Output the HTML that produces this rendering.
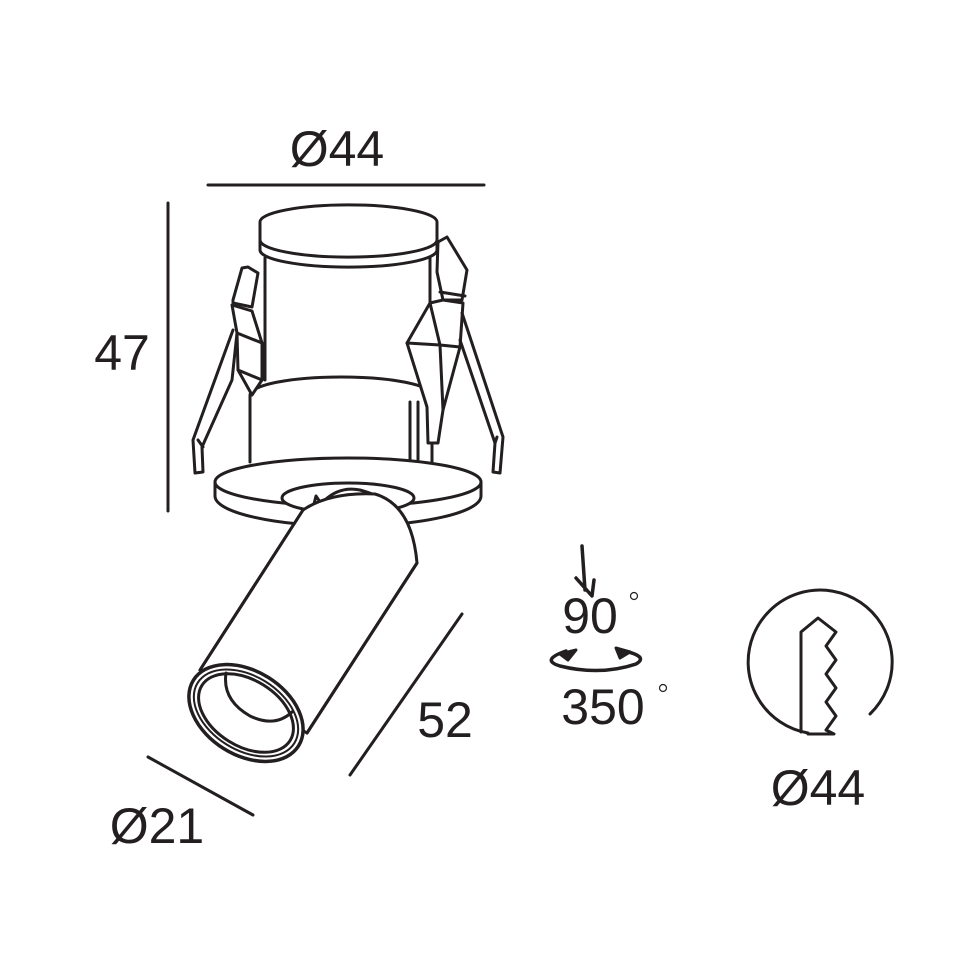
<!DOCTYPE html>
<html><head><meta charset="utf-8"><style>
html,body{margin:0;padding:0;background:#fff;}
svg{display:block}
text{font-family:"Liberation Sans",sans-serif;fill:#231f20}
</style></head><body>
<svg width="960" height="960" viewBox="0 0 960 960" xmlns="http://www.w3.org/2000/svg">
<g fill="none" stroke="#231f20" stroke-width="3" stroke-linejoin="round" stroke-linecap="round">
<!-- dimension lines -->
<line x1="208" y1="185" x2="484" y2="185"/>
<line x1="168" y1="203" x2="168" y2="511"/>
<line x1="462" y1="614" x2="350" y2="775"/>
<line x1="148" y1="757" x2="253" y2="815"/>

<!-- cap -->
<path d="M260 222 A88 17 0 0 1 437 222 L437 240 A88 17 0 0 1 260 240 Z" fill="#fff"/>
<path d="M260 240 L260 250 A88 17 0 0 0 437 250 L437 240"/>
<path d="M265 258 L265 380 M430 258 L430 380"/>
<!-- collar -->
<path d="M250 395 A91 18 0 0 1 432 395 L432 462 M250 395 L250 462"/>
<path d="M410 402 L410 460 M418 402 L418 460"/>

<!-- left clip -->
<path d="M233 300 L242 268 L248 267 L258 273 L252 307 L233 303 Z" fill="#fff"/>
<path d="M232 305 L252 311 L262 343 L262 380 L252 395 L238 370 L237 333 Z" fill="#fff"/>
<path d="M237 333 L262 343 M238 370 L262 380"/>
<path d="M233 330 L193 440 L195 473 L203 472 L202 447 L232 380 L237 333"/>
<path d="M198 440 L203 447"/>

<!-- right clip -->
<path d="M437 272 L438 242 L447 237 L467 270 L462 300 L443 300 Z" fill="#fff"/>
<path d="M440 292 L465 296"/>
<path d="M443 300 L463 303 L460 347 L443 410 L438 443 L428 443 L427 407 L407 343 L430 303 Z" fill="#fff"/>
<path d="M430 303 L440 345 L443 410 M407 343 L440 345 L460 347"/>
<path d="M462 313 L503 437 L500 473 L493 472 L495 443 L460 340"/>
<path d="M497 437 L495 443"/>

<!-- flange -->
<path d="M215 482 A133 24 0 0 1 481 482 L481 496 A133 30 0 0 1 215 496 Z" fill="#fff"/>
<path d="M215 482 A133 24 0 0 0 481 482"/>
<ellipse cx="348" cy="498" rx="66" ry="15" fill="#fff"/>
<path d="M313 508 L316 496 L322 505 M325 500 Q340 486 360 490 Q374 494 380 498"/>

<!-- tube -->
<path d="M303 510 Q330 492 375 494 Q412 505 417 563 L307 733 L200 670 Z" fill="#fff"/>
<path d="M303 510 L200 670 M417 563 L307 733"/>
<ellipse cx="246" cy="713" rx="62" ry="42" transform="rotate(32 246 713)" fill="#fff" stroke-width="3.5"/>
<ellipse cx="246" cy="713" rx="57" ry="37" transform="rotate(32 246 713)" stroke-width="2"/>
<ellipse cx="246" cy="713" rx="52" ry="33" transform="rotate(32 246 713)" stroke-width="3"/>
<path d="M226 673 Q222 700 250 716 Q275 728 292 712"/>

<!-- rotation symbol -->
<path d="M582 546 L585 590 M576 578 L592 596 L594 580" stroke-width="3.5"/>
<path d="M566 651 Q540 660 560 666 Q600 676 636 664 Q650 656 620 650" stroke-width="3.5"/>
<path d="M560 654 L576 650 L568 660 Z M616 648 L630 652 L620 658 Z" fill="#231f20"/>
<circle cx="634" cy="596" r="3.5" stroke-width="1.2"/>
<circle cx="663" cy="688" r="3.5" stroke-width="1.2"/>

<!-- right circle -->
<path d="M870 714 A72 72 0 1 0 808 733"/>
<path d="M801 732 L801 632 L818 618 L836 632 L826 646 L836 660 L826 674 L836 688 L826 702 L836 716 L826 730 L834 734 L808 734"/>
</g>
<text x="337" y="166" font-size="50" text-anchor="middle">Ø44</text>
<text x="122" y="370" font-size="50" text-anchor="middle">47</text>
<text x="445" y="737" font-size="50" text-anchor="middle">52</text>
<text x="157" y="843" font-size="50" text-anchor="middle">Ø21</text>
<text x="590" y="633" font-size="50" text-anchor="middle">90</text>
<text x="603" y="724" font-size="50" text-anchor="middle">350</text>
<text x="818" y="805" font-size="50" text-anchor="middle">Ø44</text>
</svg>
</body></html>
